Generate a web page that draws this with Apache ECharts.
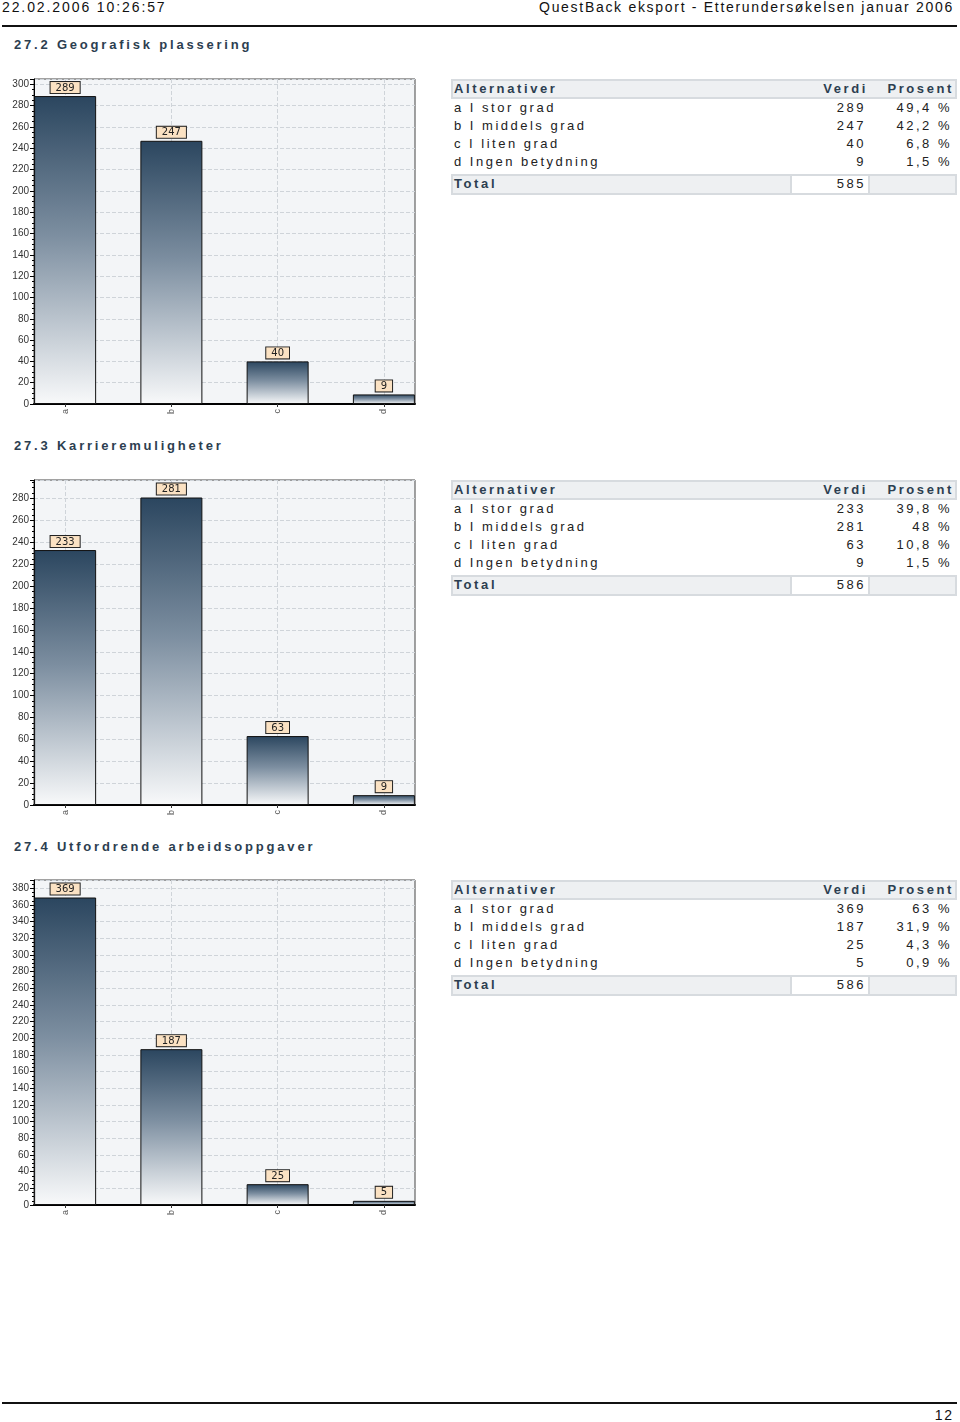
<!DOCTYPE html>
<html>
<head>
<meta charset="utf-8">
<script src="https://cdn.jsdelivr.net/npm/echarts@6/dist/echarts.min.js"></script>
<style>
  html, body { margin:0; padding:0; background:#fff; }
  #page { position:relative; width:960px; height:1422px; overflow:hidden; font-family:"Liberation Sans", Arial, sans-serif; color:#222; }
  .abs { position:absolute; white-space:nowrap; }
  .hdr { font-size:14px; letter-spacing:1.9px; color:#111; line-height:16px; }
  .title { font-size:13px; font-weight:bold; letter-spacing:2.8px; color:#2c3e50; line-height:18px; }
  .cell { font-size:13px; letter-spacing:2.5px; line-height:18px; color:#222; }
  .bold { font-weight:bold; color:#2c3e50; letter-spacing:2.6px; }
  .box { position:absolute; box-sizing:border-box; border:2px solid #d7dbdf; }
  .chart { position:absolute; }
</style>
</head>
<body>
<div id="page"></div>
<script>
// ---- data ----
const categories = ['a', 'b', 'c', 'd'];
const altLabels = ['I stor grad', 'I middels grad', 'I liten grad', 'Ingen betydning'];
const titles = ['27.2 Geografisk plassering', '27.3 Karrieremuligheter', '27.4 Utfordrende arbeidsoppgaver'];
const values1 = [289, 247, 40, 9];
const values2 = [233, 281, 63, 9];
const values3 = [369, 187, 25, 5];
const percents1 = ['49,4 %', '42,2 %', '6,8 %', '1,5 %'];
const percents2 = ['39,8 %', '48 %', '10,8 %', '1,5 %'];
const percents3 = ['63 %', '31,9 %', '4,3 %', '0,9 %'];
const totals = [585, 586, 586];
const yMaxes = [305, 297, 390];
const headerLeft = '22.02.2006 10:26:57';
const headerRight = 'QuestBack eksport - Etterundersøkelsen januar 2006';
const pageNumber = '12';

const allValues = [values1, values2, values3];
const allPercents = [percents1, percents2, percents3];

const page = document.getElementById('page');
function addDiv(cls, text, style) {
  const d = document.createElement('div');
  d.className = cls;
  if (text !== null) d.textContent = text;
  Object.assign(d.style, style);
  page.appendChild(d);
  return d;
}

// header & footer
addDiv('abs hdr', headerLeft, { left:'2px', top:'-1px' });
addDiv('abs hdr', headerRight, { right:'6px', top:'-1px', letterSpacing:'1.7px' });
addDiv('abs', null, { left:'2px', top:'25px', width:'955px', height:'2px', background:'#111' });
addDiv('abs', null, { left:'2px', top:'1402px', width:'955px', height:'2px', background:'#111' });
addDiv('abs hdr', pageNumber, { right:'6px', top:'1407px' });

const tops = [79, 479.5, 880];
const titleY = [45, 446, 847];

function gradient() {
  return new echarts.graphic.LinearGradient(0, 0, 0, 1, [
    { offset: 0, color: '#2b465f' },
    { offset: 0.45, color: '#7c8ea0' },
    { offset: 1, color: '#f8f9fa' }
  ]);
}

for (let k = 0; k < 3; k++) {
  const T = tops[k];
  addDiv('abs title', titles[k], { left:'14px', top:(titleY[k] - 9) + 'px' });

  // table header
  addDiv('box', null, { left:'451px', top:T + 'px', width:'506px', height:'20px', background:'#eef0f2' });
  addDiv('abs cell bold', 'Alternativer', { left:'454px', top:(T + 1) + 'px' });
  addDiv('abs cell bold', 'Verdi', { right:(960 - 868) + 'px', top:(T + 1) + 'px' });
  addDiv('abs cell bold', 'Prosent', { right:(960 - 954) + 'px', top:(T + 1) + 'px' });
  for (let i = 0; i < 4; i++) {
    const cy = T + 29 + i * 18;
    addDiv('abs cell', categories[i] + ' ' + altLabels[i], { left:'454px', top:(cy - 9) + 'px' });
    addDiv('abs cell', String(allValues[k][i]), { right:(960 - 866) + 'px', top:(cy - 9) + 'px' });
    addDiv('abs cell', allPercents[k][i], { right:(960 - 952) + 'px', top:(cy - 9) + 'px' });
  }
  // total row
  addDiv('box', null, { left:'451px', top:(T + 95) + 'px', width:'341px', height:'21px', background:'#eef0f2' });
  addDiv('box', null, { left:'790px', top:(T + 95) + 'px', width:'80px', height:'21px', background:'#fff' });
  addDiv('box', null, { left:'868px', top:(T + 95) + 'px', width:'89px', height:'21px', background:'#eef0f2' });
  addDiv('abs cell bold', 'Total', { left:'454px', top:(T + 96) + 'px' });
  addDiv('abs cell', String(totals[k]), { right:(960 - 866) + 'px', top:(T + 96) + 'px' });

  // chart
  const el = addDiv('chart', null, { left:'0px', top:(T - 10) + 'px', width:'445px', height:'360px' });
  const chart = echarts.init(el, null, { renderer: 'canvas' });
  const yMax = yMaxes[k];
  chart.setOption({
    animation: false,
    textStyle: { fontFamily: '"Liberation Sans", Arial, sans-serif' },
    grid: [
      { left: 34, top: 10, width: 381, height: 325, show: true, backgroundColor: '#f3f5f7', borderColor: '#444', borderWidth: 1 },
      { left: 12, top: 10, width: 425, height: 325 }
    ],
    xAxis: [
      { gridIndex: 0, type: 'category', data: categories,
        axisLine: { show: true, lineStyle: { color: '#000', width: 2 } },
        axisTick: { show: false }, axisLabel: { show: false }, splitLine: { show: false } },
      { gridIndex: 1, type: 'category', data: categories,
        axisLine: { show: false },
        axisTick: { show: true, alignWithLabel: true, length: 3, lineStyle: { color: '#333' } },
        axisLabel: { rotate: 90, fontSize: 9, color: '#555', margin: 5 },
        splitLine: { show: true, alignWithLabel: true, lineStyle: { type: 'dashed', color: '#cfd4d9' } } }
    ],
    yAxis: [
      { gridIndex: 0, type: 'value', min: 0, max: yMax, interval: 20,
        axisLine: { show: true, lineStyle: { color: '#000' } },
        axisTick: { show: true, length: 4, lineStyle: { color: '#000' } },
        minorTick: { show: true, splitNumber: 4, length: 2, lineStyle: { color: '#000' } },
        axisLabel: { fontSize: 10, color: '#333', margin: 5, showMaxLabel: false },
        splitLine: { show: true, lineStyle: { type: 'dashed', color: '#cfd4d9' } } },
      { gridIndex: 1, type: 'value', min: 0, max: yMax, show: false, splitLine: { show: false } }
    ],
    series: [{
      type: 'bar', xAxisIndex: 1, yAxisIndex: 1, data: allValues[k], barWidth: 62,
      itemStyle: { color: gradient(), borderColor: '#111', borderWidth: 1 },
      label: {
        show: true, position: 'top', distance: 3, formatter: '{c}',
        fontFamily: '"DejaVu Sans", sans-serif', fontSize: 10, color: '#222',
        backgroundColor: '#fbe2c3', borderColor: '#222', borderWidth: 1,
        padding: [1, 5, 0, 5]
      }
    }]
  });
}
</script>
</body>
</html>
